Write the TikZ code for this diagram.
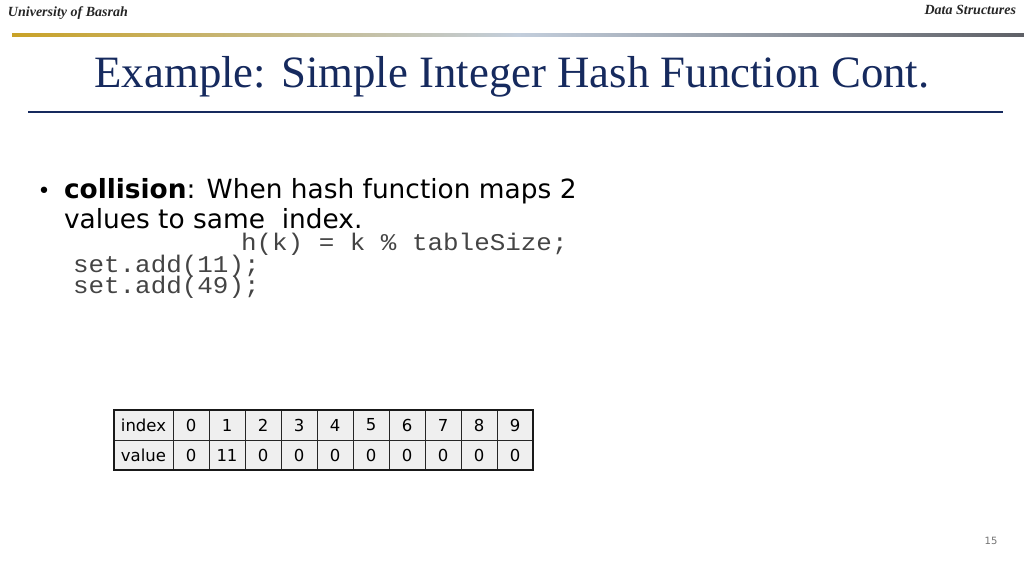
\documentclass[tikz,border=0pt]{standalone}
\usepackage{fontspec}
\setmainfont{Liberation Serif}
\setsansfont{DejaVu Sans}
\setmonofont{Liberation Mono}
\newfontfamily\codefont[FakeStretch=1.08]{Liberation Mono}
\usetikzlibrary{positioning}
\definecolor{titleblue}{HTML}{162A5E}
\definecolor{rulegold}{HTML}{C9A227}
\definecolor{rulemid}{HTML}{C3CEDC}
\definecolor{ruledark}{HTML}{5E6066}
\definecolor{codegray}{HTML}{444444}
\definecolor{cellgray}{HTML}{EFEFEF}

\begin{document}
\begin{tikzpicture}[x=1pt,y=-1pt,%
  every node/.style={inner sep=0pt,outer sep=0pt},
  header/.style={font=\fontsize{14}{14}\selectfont\itshape\bfseries,text=black!85},
  bullettext/.style={font=\fontsize{26.4}{26.4}\sffamily,anchor=base west},
  codeline/.style={font=\fontsize{24}{24}\codefont,text=codegray,anchor=base west,text height=16pt,text depth=3pt},
  cell/.style={draw=black!85,fill=cellgray,minimum height=30pt,font=\fontsize{16.5}{16.5}\sffamily}]
  \useasboundingbox (0,0) rectangle (1024,576);
  % the header
  \node[header,anchor=base west] (uni) at (8,16) {University of Basrah};
  \node[header,anchor=base east] (ds) at (1016,14) {Data Structures};
  \shade[left color=rulegold,right color=ruledark,middle color=rulemid] (12,33) rectangle (1024,36);
  % the title
  \node[font=\fontsize{44.8}{44.8}\selectfont,text=titleblue,anchor=base] (title) at (512,87) {Example: Simple Integer Hash Function Cont.};
  \fill[titleblue] (28,111) rectangle (1003,113);
  % the bullet and code
  \node[font=\fontsize{22}{22}\sffamily,anchor=base] (dot) at (44,198) {•};
  \node[bullettext] (line1) at (64,198) {\textbf{collision}: When hash function maps 2};
  \node[bullettext] (line2) at (64,228) {values to same\ \ index.};
  \node[codeline] (hash) at (241,250) {h(k) = k \% tableSize;};
  \node[codeline] (add1) at (73,272) {set.add(11);};
  \node[codeline] (add2) at (73,293) {set.add(49);};
  % the table
  \node[cell,minimum width=59pt] (idx) at (143.5,425) {index};
  \node[cell,minimum width=59pt] (val) at (143.5,455) {value};
  \foreach \v [count=\i from 0] in {0,11,0,0,0,0,0,0,0,0} {
    \node[cell,minimum width=36pt] (i\i) at (191+36*\i,425) {\i};
    \node[cell,minimum width=36pt] (v\i) at (191+36*\i,455) {\v};
  }
  \draw[line width=2pt,black!90] (idx.north west) rectangle (v9.south east);
  % the page number
  \node[font=\fontsize{10}{10}\sffamily,text=black!55] (page) at (991,541) {15};
\end{tikzpicture}
\end{document}
